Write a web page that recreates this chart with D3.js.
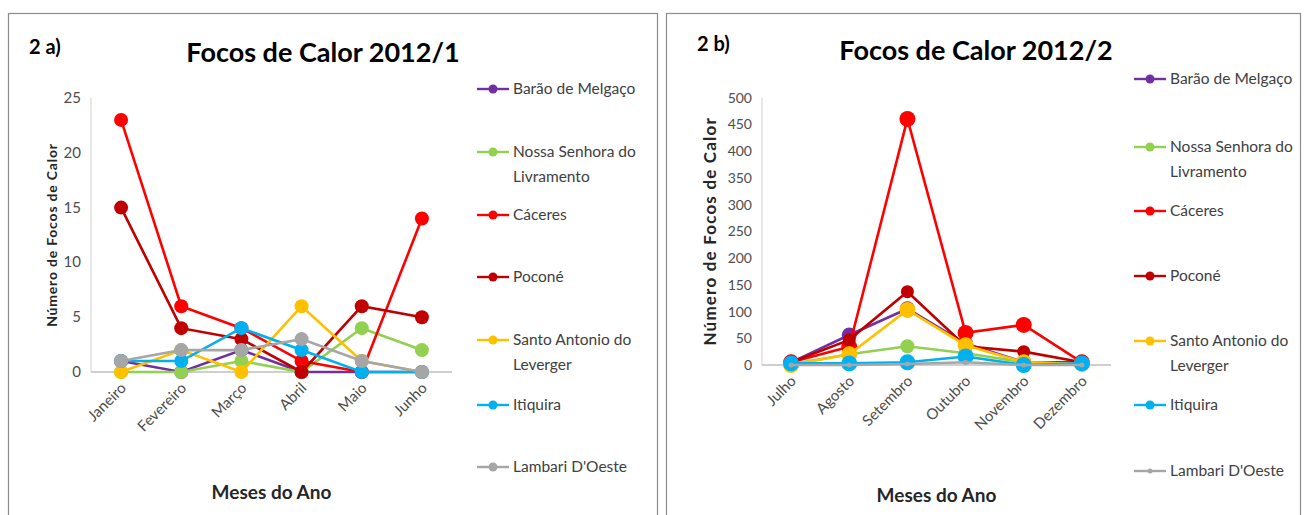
<!DOCTYPE html>
<html>
<head>
<meta charset="utf-8">
<script src="https://cdn.jsdelivr.net/npm/d3@7"></script>
<style>
  body { margin: 0; background: #fff; }
  text { font-family: Lato, "Open Sans", sans-serif; }
</style>
</head>
<body>
<svg id="chart" width="1306" height="515"></svg>
<script>
// series names and colours (legend order)
const seriesNames = ["Barão de Melgaço", "Nossa Senhora do|Livramento", "Cáceres", "Poconé",
                     "Santo Antonio do|Leverger", "Itiquira", "Lambari D'Oeste"];
const seriesColors = ["#7030A0", "#92D050", "#FF0000", "#C00000", "#FFC000", "#00B0F0", "#A6A6A6"];

// 2012/1 (first semester)
const monthsA = ["Janeiro", "Fevereiro", "Março", "Abril", "Maio", "Junho"];
const ticksA = [0, 5, 10, 15, 20, 25];
const baraoA   = [1, 0, 2, 0, 0, 0];
const nossaA   = [0, 0, 1, 0, 4, 2];
const caceresA = [23, 6, 4, 1, 0, 14];
const poconeA  = [15, 4, 3, 0, 6, 5];
const santoA   = [0, 2, 0, 6, 1, 0];
const itiquiraA = [1, 1, 4, 2, 0, 0];
const lambariA = [1, 2, 2, 3, 1, 0];

// 2012/2 (second semester)
const monthsB = ["Julho", "Agosto", "Setembro", "Outubro", "Novembro", "Dezembro"];
const ticksB = [0, 50, 100, 150, 200, 250, 300, 350, 400, 450, 500];
const baraoB   = [5, 56, 105, 40, 5, 5];
const nossaB   = [2, 20, 35, 22, 5, 2];
const caceresB = [5, 34, 460, 60, 75, 5];
const poconeB  = [5, 47, 137, 35, 25, 5];
const santoB   = [0, 20, 103, 37, 5, 2];
const itiquiraB = [3, 3, 5, 16, 0, 3];
const lambariB = [0, 0, 2, 5, 0, 0];

const svg = d3.select("#chart");

function drawPanel(p) {
  const g = svg.append("g");

  // frame
  g.append("rect")
    .attr("x", p.frame[0] + 0.5).attr("y", p.frame[1] + 0.5)
    .attr("width", p.frame[2]).attr("height", p.frame[3])
    .attr("fill", "#fff").attr("stroke", "#8c8c8c").attr("stroke-width", 1.2);

  const x = d3.scalePoint().domain(p.months).range([p.x0, p.x1]).padding(0.5);
  const y = d3.scaleLinear().domain([0, p.ticks[p.ticks.length - 1]]).range([p.y0, p.y1]);

  // axes lines
  g.append("line").attr("x1", p.x0).attr("x2", p.x0).attr("y1", y(0)).attr("y2", p.y1)
    .attr("stroke", "#d9d9d9").attr("stroke-width", 1.2);
  g.append("line").attr("x1", p.x0).attr("x2", p.x1).attr("y1", y(0)).attr("y2", y(0))
    .attr("stroke", "#bfbfbf").attr("stroke-width", 1.5);

  // y tick labels
  g.selectAll(".ytick").data(p.ticks).enter().append("text")
    .attr("x", p.x0 - 10).attr("y", d => y(d) + 5)
    .attr("text-anchor", "end")
    .style("font-size", p.yTickSize + "px").style("fill", "#4d4d4d")
    .text(d => d);

  // x tick labels rotated
  g.selectAll(".xtick").data(p.months).enter().append("text")
    .attr("transform", d => `translate(${x(d) + 6},${y(0) + 17}) rotate(-45)`)
    .attr("text-anchor", "end")
    .style("font-size", p.tickSize + "px").style("fill", "#4d4d4d")
    .text(d => d);

  // series
  const line = d3.line().x((d, i) => x(p.months[i])).y(d => y(d));
  p.series.forEach((vals, k) => {
    const col = seriesColors[k];
    g.append("path").datum(vals)
      .attr("d", line).attr("fill", "none")
      .attr("stroke", col).attr("stroke-width", p.lineW);
    g.selectAll(null).data(vals).enter().append("circle")
      .attr("cx", (d, i) => x(p.months[i])).attr("cy", d => y(d))
      .attr("r", p.radius[k]).attr("fill", col);
  });

  // titles
  g.append("text").attr("x", p.tagX).attr("y", p.tagY)
    .style("font-size", "20px").style("font-weight", "bold").text(p.tag);
  g.append("text").attr("x", p.titleX).attr("y", p.titleY)
    .attr("text-anchor", "middle")
    .style("font-size", "27px").style("font-weight", "bold").text(p.title);
  g.append("text").attr("x", (p.x0 + p.x1) / 2).attr("y", p.xlabY)
    .attr("text-anchor", "middle")
    .style("font-size", "19px").style("font-weight", "bold").style("fill", "#262626")
    .text("Meses do Ano");
  g.append("text")
    .attr("transform", `translate(${p.ylabX},${(p.y0 + p.y1) / 2}) rotate(-90)`)
    .attr("text-anchor", "middle")
    .style("font-size", p.ylabSize + "px").style("font-weight", "bold").style("fill", "#262626")
    .style("letter-spacing", p.ylabSpacing + "px")
    .text("Número de Focos de Calor");

  // legend
  seriesNames.forEach((name, k) => {
    const ly = p.legY[k];
    const lg = g.append("g");
    lg.append("line").attr("x1", p.legX).attr("x2", p.legX + 32).attr("y1", ly).attr("y2", ly)
      .attr("stroke", seriesColors[k]).attr("stroke-width", 2.4);
    lg.append("circle").attr("cx", p.legX + 16).attr("cy", ly)
      .attr("r", k === 6 && p.smallLambari ? 2.5 : 4.5).attr("fill", seriesColors[k]);
    name.split("|").forEach((part, j) => {
      lg.append("text").attr("x", p.legX + 36).attr("y", ly + 5 + j * 25)
        .style("font-size", "15.5px").style("fill", "#404040").text(part);
    });
  });
}

drawPanel({
  frame: [8, 13, 649, 510],
  months: monthsA, ticks: ticksA,
  series: [baraoA, nossaA, caceresA, poconeA, santoA, itiquiraA, lambariA],
  x0: 91, x1: 452, y0: 372, y1: 98,
  tickSize: 15, yTickSize: 15, lineW: 2.6, radius: [7, 7, 7, 7, 7, 7, 7],
  tag: "2 a)", tagX: 29, tagY: 54,
  title: "Focos de Calor 2012/1", titleX: 323, titleY: 62,
  xlabY: 499, ylabX: 57, ylabSize: 14, ylabSpacing: 0.8,
  legX: 477, legY: [89, 152, 215, 277, 340, 405, 467]
});

drawPanel({
  frame: [666, 13, 634, 510],
  months: monthsB, ticks: ticksB,
  series: [baraoB, nossaB, caceresB, poconeB, santoB, itiquiraB, lambariB],
  x0: 762, x1: 1111, y0: 365, y1: 97.5,
  tickSize: 15, yTickSize: 14, lineW: 2.6, radius: [7.5, 7, 8, 6.5, 8, 8, 2.5],
  tag: "2 b)", tagX: 697, tagY: 51,
  title: "Focos de Calor 2012/2", titleX: 976, titleY: 60,
  xlabY: 502, ylabX: 716, ylabSize: 17, ylabSpacing: 1.2, smallLambari: true,
  legX: 1134, legY: [79, 147, 211, 276, 341, 405, 471]
});
</script>
</body>
</html>
